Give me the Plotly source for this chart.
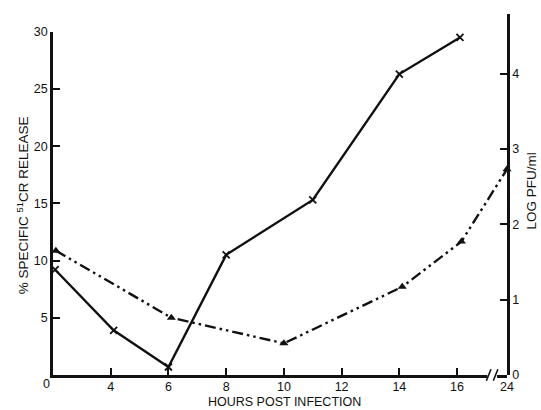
import plotly.graph_objects as go

# ---- data ----
hours_release = [0.15, 4.1, 6.0, 8.0, 11.0, 14.0, 16.1]
release_pct = [9.2, 3.9, 0.7, 10.5, 15.3, 26.3, 29.5]

hours_pfu = [0.2, 6.1, 10.0, 14.1, 16.15, 24]
log_pfu = [1.65, 0.76, 0.42, 1.17, 1.77, 2.73]

x_tick_hours = [4, 6, 8, 10, 12, 14, 16, 24]
x_tick_labels = ["4", "6", "8", "10", "12", "14", "16", "24"]
left_ticks = [5, 10, 15, 20, 25, 30]
right_ticks = [0, 1, 2, 3, 4]

# broken / non-linear time axis as drawn in the original figure
AX_START = 2.0
AX_END = 17.73


def pos(h):
    if h <= 4:
        return AX_START + h / 2.0
    if h <= 17.5:
        return float(h)
    return AX_END + (h - 24) * 0.2


FONT = "Liberation Sans"
BLACK = "#111111"

fig = go.Figure()

fig.add_trace(go.Scatter(
    x=[pos(h) for h in hours_release], y=release_pct,
    mode="lines+markers", xaxis="x", yaxis="y",
    line=dict(color=BLACK, width=2.4),
    marker=dict(symbol="x-thin-open", size=7, line=dict(color=BLACK, width=1.8)),
    cliponaxis=False, showlegend=False,
))

fig.add_trace(go.Scatter(
    x=[pos(h) for h in hours_pfu], y=log_pfu,
    mode="lines+markers", xaxis="x", yaxis="y2",
    line=dict(color=BLACK, width=2.4, dash="11px,4px,2.5px,4px,2.5px,4px"),
    marker=dict(symbol="triangle-up", size=8, color=BLACK),
    cliponaxis=False, showlegend=False,
))

# axis break on the x axis
bx = (pos(16) + AX_END) / 2 + 0.35
fig.add_shape(type="rect", xref="x", yref="paper", x0=bx - 0.17, x1=bx + 0.17,
              y0=-0.012, y1=0.012, fillcolor="white", line=dict(width=0), layer="above")
for dx in (-0.12, 0.12):
    fig.add_shape(type="line", xref="x", yref="paper",
                  x0=bx + dx - 0.08, x1=bx + dx + 0.08, y0=-0.016, y1=0.016,
                  line=dict(color=BLACK, width=1.6), layer="above")

tick_common = dict(ticks="inside", ticklen=7, tickwidth=1.6, tickcolor=BLACK,
                   showline=True, linecolor=BLACK, linewidth=2.5,
                   showgrid=False, zeroline=False, tickfont=dict(size=12.5))

fig.update_layout(
    width=541, height=410,
    margin=dict(l=53, r=34, t=7, b=35),
    paper_bgcolor="white", plot_bgcolor="rgba(0,0,0,0)",
    font=dict(family=FONT, color=BLACK, size=13),
    xaxis=dict(
        range=[AX_START, AX_END], domain=[0, 1], anchor="y",
        tickvals=[pos(h) for h in x_tick_hours], ticktext=x_tick_labels,
        ticklabelstandoff=-2, **tick_common,
    ),
    yaxis=dict(
        range=[0, 30], domain=[0, 0.951], anchor="x",
        tickvals=left_ticks, ticktext=[str(v) for v in left_ticks],
        **tick_common,
    ),
    yaxis2=dict(
        range=[0, 4.79], domain=[0, 1], anchor="x", side="right",
        tickvals=right_ticks, ticktext=[str(v) for v in right_ticks],
        **tick_common,
    ),
    annotations=[
        dict(text="0", xref="paper", yref="paper", x=-0.0143, y=-0.025,
             xanchor="center", yanchor="middle",
             showarrow=False, font=dict(size=12.5)),
        dict(text="HOURS POST INFECTION", xref="paper", yref="paper",
             x=0.509, y=-0.074, xanchor="center", yanchor="middle",
             showarrow=False, font=dict(size=12.5)),
        dict(text="% SPECIFIC <sup>51</sup>CR RELEASE", xref="paper", yref="paper",
             x=-0.066, y=0.47, xanchor="center", yanchor="middle", textangle=-90,
             showarrow=False, font=dict(size=13.5)),
        dict(text="LOG PFU/ml", xref="paper", yref="paper",
             x=1.055, y=0.511, xanchor="center", yanchor="middle", textangle=-90,
             showarrow=False, font=dict(size=13.5)),
    ],
)

fig.write_html("out.html")
